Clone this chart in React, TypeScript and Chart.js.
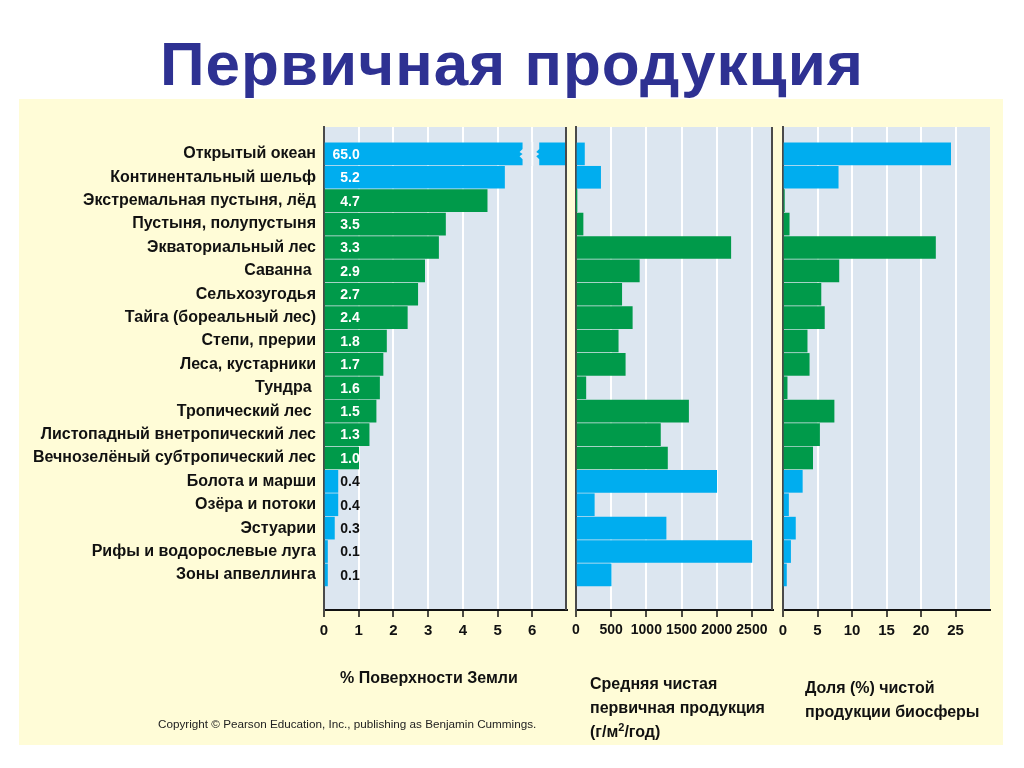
import React, { useEffect, useRef } from 'react';
import { Chart, registerables } from 'chart.js';

Chart.register(...registerables);

// ---------- data ----------
const categories: string[] = [
  'Открытый океан',
  'Континентальный шельф',
  'Экстремальная пустыня, лёд',
  'Пустыня, полупустыня',
  'Экваториальный лес',
  'Саванна ',
  'Сельхозугодья',
  'Тайга (бореальный лес)',
  'Степи, прерии',
  'Леса, кустарники',
  'Тундра ',
  'Тропический лес ',
  'Листопадный внетропический лес',
  'Вечнозелёный субтропический лес',
  'Болота и марши',
  'Озёра и потоки',
  'Эстуарии',
  'Рифы и водорослевые луга',
  'Зоны апвеллинга',
];

// 'w' = водные экосистемы, 'l' = наземные
const ecosystemKind: string[] = ['w', 'w', 'l', 'l', 'l', 'l', 'l', 'l', 'l', 'l', 'l', 'l', 'l', 'l', 'w', 'w', 'w', 'w', 'w'];

const surfacePercent: number[] = [65.0, 5.2, 4.7, 3.5, 3.3, 2.9, 2.7, 2.4, 1.8, 1.7, 1.6, 1.5, 1.3, 1.0, 0.4, 0.4, 0.3, 0.1, 0.1];
const meanNpp: number[] = [120, 350, 3, 100, 2200, 900, 650, 800, 600, 700, 140, 1600, 1200, 1300, 2000, 260, 1280, 2500, 500];
const nppShare: number[] = [24.3, 8.0, 0.2, 0.9, 22.1, 8.1, 5.5, 6.0, 3.5, 3.8, 0.6, 7.4, 5.3, 4.3, 2.8, 0.8, 1.8, 1.1, 0.5];

const surfaceTicks: number[] = [0, 1, 2, 3, 4, 5, 6];
const nppTicks: number[] = [0, 500, 1000, 1500, 2000, 2500];
const shareTicks: number[] = [0, 5, 10, 15, 20, 25];

const surfaceMax = 7;
const nppMax = 2800;
const shareMax = 30;

// value at which the off-scale first bar is broken
const breakFrom = 5.72;
const breakTo = 6.2;

// ---------- styles ----------
const BLUE = '#00ADEF';
const GREEN = '#009A4A';
const PANEL_BG = '#DCE6F0';
const CREAM = '#FFFCD7';
const AXIS_DARK = '#4a4a4a';
const SANS = "'Liberation Sans', Arial, sans-serif";

const W = 1024;
const H = 768;
const PLOT_TOP = 127;
const PLOT_BOTTOM = 610;

const barColors = ecosystemKind.map((k) => (k === 'w' ? BLUE : GREEN));

const panelPlugin = (rightBorder: boolean) => ({
  id: 'panelBg',
  beforeDraw(chart: any) {
    const { ctx, chartArea: a } = chart;
    ctx.save();
    ctx.fillStyle = PANEL_BG;
    ctx.fillRect(a.left, a.top, a.right - a.left, a.bottom - a.top);
    ctx.restore();
  },
  afterDraw(chart: any) {
    if (!rightBorder) return;
    const { ctx, chartArea: a } = chart;
    ctx.save();
    ctx.strokeStyle = AXIS_DARK;
    ctx.lineWidth = 2;
    ctx.beginPath();
    ctx.moveTo(a.right - 1, a.top);
    ctx.lineTo(a.right - 1, a.bottom);
    ctx.stroke();
    ctx.restore();
  },
});

const breakPlugin = {
  id: 'barBreak',
  afterDatasetsDraw(chart: any) {
    const meta = chart.getDatasetMeta(0);
    const bar = meta.data[0];
    if (!bar) return;
    const xs = chart.scales.x;
    const x0 = xs.getPixelForValue(breakFrom);
    const x1 = xs.getPixelForValue(breakTo);
    const { y, height } = bar.getProps(['y', 'height'], true);
    const top = y - height / 2 - 1;
    const bot = y + height / 2 + 1;
    const h = bot - top;
    const amp = 3;
    const { ctx } = chart;
    ctx.save();
    ctx.fillStyle = PANEL_BG;
    ctx.beginPath();
    ctx.moveTo(x0, top);
    ctx.lineTo(x1, top);
    ctx.lineTo(x1, top + h * 0.3);
    ctx.lineTo(x1 - amp, top + h * 0.42);
    ctx.lineTo(x1, top + h * 0.5);
    ctx.lineTo(x1 - amp, top + h * 0.6);
    ctx.lineTo(x1, top + h * 0.72);
    ctx.lineTo(x1, bot);
    ctx.lineTo(x0, bot);
    ctx.lineTo(x0, top + h * 0.72);
    ctx.lineTo(x0 - amp, top + h * 0.6);
    ctx.lineTo(x0, top + h * 0.5);
    ctx.lineTo(x0 - amp, top + h * 0.42);
    ctx.lineTo(x0, top + h * 0.3);
    ctx.closePath();
    ctx.fill();
    surfaceTicks.forEach((t) => {
      if (t > breakFrom && t < breakTo) {
        const gx = xs.getPixelForValue(t);
        ctx.strokeStyle = '#ffffff';
        ctx.lineWidth = 2;
        ctx.beginPath();
        ctx.moveTo(gx, top);
        ctx.lineTo(gx, bot);
        ctx.stroke();
      }
    });
    ctx.restore();
  },
};

const valueLabelPlugin = {
  id: 'valueLabels',
  afterDatasetsDraw(chart: any) {
    const meta = chart.getDatasetMeta(0);
    const xs = chart.scales.x;
    const xr = xs.getPixelForValue(1) + 1;
    const { ctx } = chart;
    ctx.save();
    ctx.font = `bold 14px ${SANS}`;
    ctx.textAlign = 'right';
    ctx.textBaseline = 'middle';
    meta.data.forEach((bar: any, i: number) => {
      const v = surfacePercent[i];
      ctx.fillStyle = v >= 1 ? '#ffffff' : '#111111';
      const { y } = bar.getProps(['y'], true);
      ctx.fillText(v.toFixed(1), xr, y + 1);
    });
    ctx.restore();
  },
};

function makeConfig(
  values: number[],
  ticks: number[],
  max: number,
  plotLeft: number,
  plotRight: number,
  showCategories: boolean,
  rightBorder: boolean,
  tickFontSize: number,
  extraPlugins: any[],
) {
  const leftPad = showCategories ? 20 : plotLeft;
  const yWidth = showCategories ? plotLeft - 20 : 0;
  return {
    type: 'bar' as const,
    data: {
      datasets: [
        {
          data: values.map((v, i) => ({ x: v, y: i })),
          backgroundColor: barColors,
          borderWidth: 0,
          barThickness: 22,
        },
      ],
    },
    options: {
      indexAxis: 'y' as const,
      responsive: false,
      animation: false as const,
      layout: { padding: { left: leftPad, right: W - plotRight, top: PLOT_TOP, bottom: 0 } },
      plugins: { legend: { display: false }, tooltip: { enabled: false }, title: { display: false } },
      scales: {
        x: {
          type: 'linear' as const,
          min: 0,
          max,
          offset: false,
          afterBuildTicks: (s: any) => {
            s.ticks = ticks.map((v) => ({ value: v }));
          },
          afterFit: (s: any) => {
            s.height = H - PLOT_BOTTOM;
          },
          grid: {
            color: (c: any) => (c.tick && c.tick.value === 0 ? 'rgba(0,0,0,0)' : '#ffffff'),
            lineWidth: 2,
            tickColor: '#111111',
            tickLength: 7,
            tickWidth: 1.5,
          },
          border: { display: true, color: '#111111', width: 2 },
          ticks: {
            color: '#111111',
            padding: 5,
            maxRotation: 0,
            autoSkip: false,
            font: { family: SANS, size: tickFontSize, weight: 'bold' as const },
            callback: (v: any) => String(v),
          },
        },
        y: {
          type: 'linear' as const,
          reverse: true,
          offset: false,
          min: -1.15,
          max: 19.5,
          afterBuildTicks: (s: any) => {
            s.ticks = categories.map((_, i) => ({ value: i }));
          },
          afterFit: (s: any) => {
            s.width = yWidth;
          },
          grid: { display: false, drawTicks: false },
          border: { display: true, color: AXIS_DARK, width: 2 },
          ticks: {
            display: showCategories,
            autoSkip: false,
            padding: 8,
            color: '#111111',
            font: { family: SANS, size: 16, weight: 'bold' as const },
            callback: (v: any) => categories[Math.round(Number(v))] ?? '',
          },
        },
      },
    },
    plugins: [panelPlugin(rightBorder), ...extraPlugins],
  };
}

function ChartCanvas({ config }: { config: any }) {
  const ref = useRef<HTMLCanvasElement | null>(null);
  useEffect(() => {
    if (!ref.current) return;
    const chart = new Chart(ref.current, config);
    return () => chart.destroy();
  }, [config]);
  return (
    <canvas
      ref={ref}
      width={W}
      height={H}
      style={{ position: 'absolute', left: 0, top: 0, width: W, height: H }}
    />
  );
}

const config1 = makeConfig(surfacePercent, surfaceTicks, surfaceMax, 324, 567, true, true, 15, [breakPlugin, valueLabelPlugin]);
const config2 = makeConfig(meanNpp, nppTicks, nppMax, 576, 773, false, true, 14, []);
const config3 = makeConfig(nppShare, shareTicks, shareMax, 783, 990, false, false, 15, []);

const labelStyle: React.CSSProperties = {
  position: 'absolute',
  fontFamily: SANS,
  fontWeight: 'bold',
  fontSize: 16,
  color: '#111111',
  lineHeight: '24px',
  whiteSpace: 'nowrap',
};

export default function App() {
  return (
    <div
      style={{
        position: 'absolute',
        left: 0,
        top: 0,
        width: W,
        height: H,
        background: '#ffffff',
        overflow: 'hidden',
      }}
    >
      <div
        style={{
          position: 'absolute',
          left: 19,
          top: 99,
          width: 984,
          height: 646,
          background: CREAM,
        }}
      />
      <div
        style={{
          position: 'absolute',
          left: 0,
          top: 24,
          width: W,
          textAlign: 'center',
          fontFamily: SANS,
          fontWeight: 'bold',
          fontSize: 62,
          letterSpacing: 1,
          lineHeight: '80px',
          color: '#2E3192',
          whiteSpace: 'nowrap',
        }}
      >
        Первичная продукция
      </div>
      <ChartCanvas config={config1} />
      <ChartCanvas config={config2} />
      <ChartCanvas config={config3} />
      <div style={{ ...labelStyle, left: 340, top: 666 }}>% Поверхности Земли</div>
      <div style={{ ...labelStyle, left: 590, top: 672 }}>
        Средняя чистая
        <br />
        первичная продукция
        <br />
        (г/м<sup style={{ fontSize: 11, verticalAlign: 'top', lineHeight: '14px' }}>2</sup>/год)
      </div>
      <div style={{ ...labelStyle, left: 805, top: 676 }}>
        Доля (%) чистой
        <br />
        продукции биосферы
      </div>
      <div
        style={{
          position: 'absolute',
          left: 158,
          top: 716,
          fontFamily: SANS,
          fontSize: 11.7,
          lineHeight: '16px',
          color: '#222222',
          whiteSpace: 'nowrap',
        }}
      >
        Copyright © Pearson Education, Inc., publishing as Benjamin Cummings.
      </div>
    </div>
  );
}
